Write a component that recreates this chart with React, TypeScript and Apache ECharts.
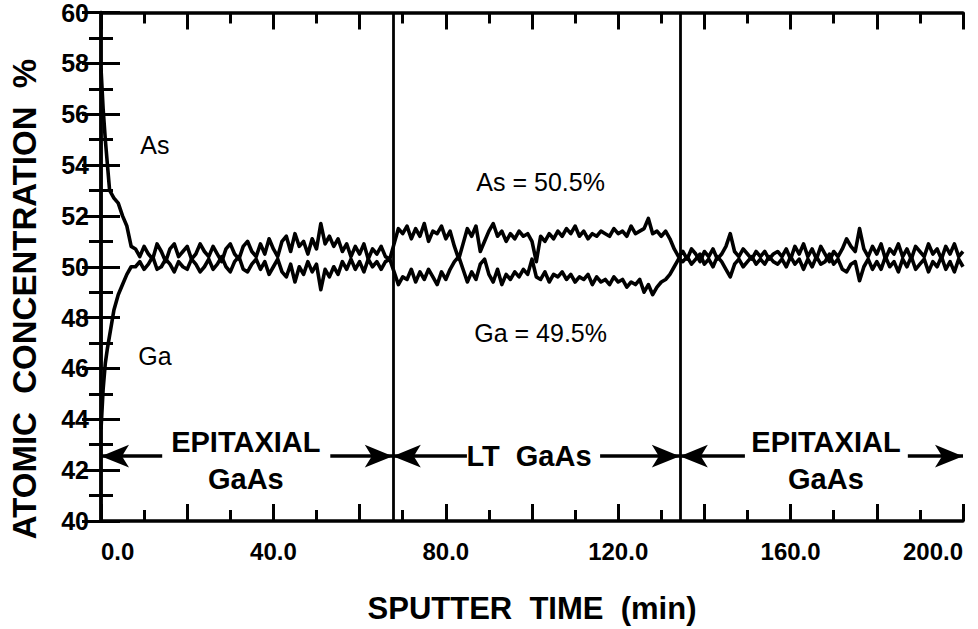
import React, { useEffect, useRef } from "react";
import * as echarts from "echarts";

// ---- data ----
const rampTime = [0, 0.5, 1, 1.5, 2, 3, 4, 5, 6, 7];
const asRamp = [57.8, 56.2, 55.0, 54.0, 53.0, 52.7, 52.5, 52.0, 51.6, 50.8];
const gaRamp = [43.6, 45.2, 46.2, 46.8, 47.3, 48.3, 48.9, 49.3, 49.7, 50.0];

const plateauStart = 8; // minutes 8..200, one value per minute
const asValues = [
  // 8..67 epitaxial
  50.7, 50.4, 50.8, 50.5, 50.3, 50.9, 50.6, 50.2, 50.7, 50.9,
  50.4, 50.6, 50.8, 50.3, 50.5, 50.9, 50.6, 50.4, 50.8, 50.5,
  50.2, 50.7, 50.9, 50.5, 50.3, 50.8, 51.0, 50.6, 50.4, 50.9,
  50.5, 51.1, 50.7, 50.4, 51.0, 51.2, 50.6, 51.3, 50.8, 51.0,
  50.5, 51.1, 50.7, 51.7, 50.9, 51.2, 50.8, 51.1, 50.6, 50.9,
  50.4, 50.8, 50.5, 50.9, 50.3, 50.7, 50.5, 50.8, 50.4, 50.3,
  // 68..70 transition
  50.9, 51.5, 51.3,
  // 71..131 LT GaAs
  51.6, 51.1, 51.5, 51.2, 51.7, 51.0, 51.4, 51.3, 51.6, 51.1,
  51.4, 50.8, 50.3, 50.9, 51.5, 51.2, 51.6, 50.6, 51.0, 51.4,
  51.7, 51.2, 51.4, 51.0, 51.3, 51.1, 51.4, 51.2, 51.3, 51.0,
  50.2, 51.2, 51.0, 51.3, 51.1, 51.4, 51.2, 51.5, 51.3, 51.6,
  51.2, 51.4, 51.1, 51.3, 51.2, 51.4, 51.3, 51.2, 51.5, 51.3,
  51.4, 51.2, 51.6, 51.3, 51.4, 51.5, 51.9, 51.3, 51.4, 51.2,
  51.4,
  // 132..134 transition
  51.1, 50.7, 50.4,
  // 135..200 epitaxial
  50.6, 50.3, 50.7, 50.5, 50.2, 50.6, 50.4, 50.7, 50.3, 50.5,
  50.8, 51.3, 50.6, 50.4, 50.7, 50.5, 50.3, 50.6, 50.4, 50.6,
  50.3, 50.5, 50.6, 50.4, 50.7, 50.3, 50.8, 50.5, 50.9, 50.4,
  50.7, 50.3, 50.8, 50.5, 50.2, 50.6, 50.4, 50.7, 51.1, 50.8,
  50.6, 51.5, 50.7, 50.4, 50.8, 50.5, 50.9, 50.3, 50.7, 50.5,
  50.9, 50.4, 50.7, 50.3, 50.8, 50.6, 50.4, 50.9, 50.5, 50.7,
  50.3, 50.8, 50.5, 50.9, 50.4, 50.6,
];
const gaValues = [
  // 8..67 epitaxial
  50.0, 50.2, 49.9, 50.1, 50.4, 49.9, 50.0, 50.3, 50.1, 49.8,
  50.2, 50.0, 49.9, 50.3, 50.1, 49.8, 50.0, 50.3, 49.9, 50.1,
  50.4, 50.0, 49.8, 50.2, 50.4, 49.9, 49.8, 50.1, 50.3, 49.9,
  50.2, 49.7, 50.0, 50.3, 49.8, 49.6, 50.1, 49.4, 50.0, 49.7,
  50.2, 49.8, 50.1, 49.1, 49.9, 49.6, 50.0, 49.7, 50.2, 49.9,
  50.3, 49.9, 50.2, 49.8, 50.3, 50.0, 50.2, 49.9, 50.2, 50.3,
  // 68..70 transition
  49.8, 49.3, 49.6,
  // 71..131 LT GaAs
  49.5, 49.9, 49.4, 49.8, 49.5, 49.9, 49.6, 49.3, 49.8, 49.5,
  49.9, 50.2, 50.4, 49.9, 49.4, 49.8, 49.5, 50.1, 50.3, 49.7,
  49.4, 49.9, 49.3, 49.7, 49.5, 49.8, 49.6, 49.9, 49.7, 50.3,
  49.6, 49.5, 49.8, 49.4, 49.7, 49.6, 49.8, 49.5, 49.7, 49.4,
  49.6, 49.5, 49.7, 49.3, 49.6, 49.4, 49.5, 49.3, 49.6, 49.4,
  49.5, 49.2, 49.4, 49.3, 49.5, 49.0, 49.3, 48.9, 49.2, 49.4,
  49.5,
  // 132..134 transition
  49.7, 50.0, 50.3,
  // 135..200 epitaxial
  50.2, 50.4, 50.1, 50.3, 50.5, 50.1, 50.3, 50.0, 50.4, 50.2,
  49.9, 49.6, 50.1, 50.3, 50.0, 50.2, 50.4, 50.1, 50.3, 50.1,
  50.4, 50.2, 50.1, 50.3, 50.0, 50.4, 50.1, 50.3, 49.9, 50.3,
  50.0, 50.4, 50.1, 50.2, 50.5, 50.1, 50.3, 49.9, 49.8, 50.1,
  50.2, 49.45, 50.0, 50.3, 49.9, 50.2, 49.9, 50.4, 50.0, 50.2,
  49.8, 50.3, 50.0, 50.4, 49.9, 50.1, 50.3, 49.8, 50.2, 50.0,
  50.4, 49.9, 50.2, 49.8, 50.3, 50.0,
];

const layerBoundaries = [67.7, 134.3];
const arrowLevel = 42.55;
// [from, to, which end carries the arrow head]
const arrowSegments: [number, number, "start" | "end"][] = [
  [0, 14.2, "start"],
  [53.2, 67.7, "end"],
  [67.7, 84.9, "start"],
  [115.8, 134.3, "end"],
  [134.3, 149.4, "start"],
  [187.2, 200, "end"],
];

const curveLabels: [number, number, string][] = [
  [12.5, 54.8, "As"],
  [12.5, 46.5, "Ga"],
  [102, 53.35, "As = 50.5%"],
  [102, 47.4, "Ga = 49.5%"],
];
const regionLabels: [number, number, string][] = [
  [33.6, 43.1, "EPITAXIAL"],
  [33.6, 41.65, "GaAs"],
  [99.3, 42.55, "LT  GaAs"],
  [168.2, 43.1, "EPITAXIAL"],
  [168.2, 41.65, "GaAs"],
];

const xTitle = "SPUTTER  TIME  (min)";
const yTitle = "ATOMIC  CONCENTRATION  %";

function buildSeries(ramp: number[], values: number[]): [number, number][] {
  const pts: [number, number][] = rampTime.map((t, i) => [t, ramp[i]]);
  values.forEach((v, i) => pts.push([plateauStart + i, v]));
  return pts;
}

const INK = "#000";
const FONT = "'Liberation Sans', Arial, Helvetica, sans-serif";

export default function App() {
  const ref = useRef<HTMLDivElement>(null);
  useEffect(() => {
    document.body.style.margin = "0";
    if (!ref.current) return;
    const chart = echarts.init(ref.current, null, { renderer: "svg" });

    const tickCommon = {
      axisLine: { show: true, lineStyle: { color: INK, width: 3.5 } },
      axisTick: { show: true, inside: true, length: 17, lineStyle: { color: INK, width: 3 } },
      minorTick: { show: true, splitNumber: 2, length: 11, lineStyle: { color: INK, width: 3 } },
      splitLine: { show: false },
      minorSplitLine: { show: false },
    };
    const yTicks = {
      axisTick: { show: true, inside: true, length: 19, lineStyle: { color: INK, width: 3 } },
      minorTick: { show: true, splitNumber: 2, length: 12, lineStyle: { color: INK, width: 3 } },
    };

    const labelSeries = (name: string, items: [number, number, string][], size: number, weight: string) => ({
      name,
      type: "scatter",
      symbolSize: 0,
      silent: true,
      itemStyle: { opacity: 1 },
      data: items.map(([x, y, t]) => ({ value: [x, y], name: t })),
      label: {
        show: true,
        position: "inside",
        formatter: (p: any) => p.name,
        color: INK,
        opacity: 1,
        textBorderWidth: 0,
        fontFamily: FONT,
        fontWeight: weight,
        fontSize: size,
        align: "center",
        verticalAlign: "middle",
      },
      z: 5,
    });

    const option: any = {
      animation: false,
      backgroundColor: "#fff",
      grid: { left: 101, right: 15, top: 12, bottom: 96, containLabel: false },
      xAxis: [
        {
          type: "value",
          min: 0,
          max: 200,
          interval: 20,
          position: "bottom",
          ...tickCommon,
          axisLabel: {
            show: true,
            margin: 18,
            color: INK,
            fontFamily: FONT,
            fontWeight: "bold",
            fontSize: 24,
            alignMinLabel: "left",
            alignMaxLabel: "right",
            formatter: (v: number) => (v % 40 === 0 ? v.toFixed(1) : ""),
          },
          name: xTitle,
          nameLocation: "middle",
          nameGap: 72,
          nameTextStyle: { color: INK, fontFamily: FONT, fontWeight: "bold", fontSize: 31 },
        },
        {
          type: "value",
          min: 0,
          max: 200,
          interval: 20,
          position: "top",
          ...tickCommon,
          axisLabel: { show: false },
        },
      ],
      yAxis: [
        {
          type: "value",
          min: 40,
          max: 60,
          interval: 2,
          position: "left",
          ...tickCommon,
          ...yTicks,
          axisLabel: {
            show: true,
            margin: 12,
            color: INK,
            fontFamily: FONT,
            fontWeight: "bold",
            fontSize: 25,
          },
        },
        {
          type: "value",
          min: 40,
          max: 60,
          interval: 2,
          position: "right",
          ...tickCommon,
          ...yTicks,
          axisLabel: { show: false },
        },
      ],
      graphic: [
        {
          type: "text",
          x: 24,
          y: 299,
          rotation: Math.PI / 2,
          style: {
            text: yTitle,
            fill: INK,
            font: `bold 33px ${FONT}`,
            textAlign: "center",
            textVerticalAlign: "middle",
          },
        },
      ],
      series: [
        {
          name: "As",
          type: "line",
          data: buildSeries(asRamp, asValues),
          showSymbol: false,
          lineStyle: { color: INK, width: 3.6, join: "round" },
          z: 3,
          markLine: {
            silent: true,
            symbol: ["none", "none"],
            label: { show: false },
            lineStyle: { color: INK, width: 2.8, type: "solid" },
            data: layerBoundaries.map((x) => ({ xAxis: x })),
          },
        },
        {
          name: "Ga",
          type: "line",
          data: buildSeries(gaRamp, gaValues),
          showSymbol: false,
          lineStyle: { color: INK, width: 3.6, join: "round" },
          z: 3,
          markLine: {
            silent: true,
            label: { show: false },
            symbolSize: [17, 28],
            lineStyle: { color: INK, width: 3.5, type: "solid" },
            data: arrowSegments.map(([a, b, head]) => [
              { coord: [a, arrowLevel], symbol: head === "start" ? "arrow" : "none" },
              { coord: [b, arrowLevel], symbol: head === "end" ? "arrow" : "none" },
            ]),
          },
        },
        labelSeries("curveLabels", curveLabels, 25, "normal"),
        labelSeries("regionLabels", regionLabels, 29, "bold"),
      ],
    };
    chart.setOption(option);
    return () => chart.dispose();
  }, []);
  return <div ref={ref} style={{ width: 978, height: 629 }} />;
}
